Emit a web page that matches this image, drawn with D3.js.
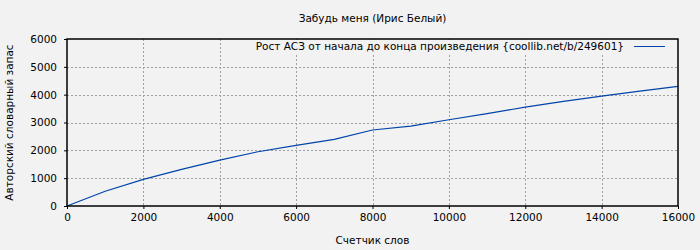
<!DOCTYPE html>
<html>
<head>
<meta charset="utf-8">
<script src="https://cdn.jsdelivr.net/npm/d3@7"></script>
<style>
  body { margin: 0; background: #f2f2f2; }
  svg { display: block; font-family: "DejaVu Sans", sans-serif; }
</style>
</head>
<body>
<div id="chart"></div>
<script>
// données
const words = [0, 1000, 2000, 3000, 4000, 5000, 6000, 7000, 8000, 9000, 10000, 11000, 12000, 13000, 14000, 15000, 16000];
const vocab = [0, 530, 955, 1315, 1650, 1950, 2180, 2395, 2730, 2870, 3100, 3320, 3550, 3760, 3950, 4130, 4300];
const xTicks = [0, 2000, 4000, 6000, 8000, 10000, 12000, 14000, 16000];
const yTicks = [0, 1000, 2000, 3000, 4000, 5000, 6000];

const title = "Забудь меня (Ирис Белый)";
const xLabel = "Счетчик слов";
const yLabel = "Авторский словарный запас";
const legendLabel = "Рост АСЗ от начала до конца произведения {coollib.net/b/249601}";

const W = 700, H = 250;
const margin = { top: 39, right: 22, bottom: 44, left: 67 };
const width = W - margin.left - margin.right;
const height = H - margin.top - margin.bottom;

const svg = d3.select("#chart").append("svg")
    .attr("width", W)
    .attr("height", H);

svg.append("rect").attr("width", W).attr("height", H).attr("fill", "#f2f2f2");

const g = svg.append("g").attr("transform", `translate(${margin.left},${margin.top})`);

const x = d3.scaleLinear().domain([0, 16000]).range([0, width]);
const y = d3.scaleLinear().domain([0, 6000]).range([height, 0]);

// grille pointillée
g.append("g").selectAll("line")
    .data(xTicks.slice(1, -1))
    .join("line")
    .attr("x1", d => Math.round(x(d)) + 0.5).attr("x2", d => Math.round(x(d)) + 0.5)
    .attr("y1", 0).attr("y2", height)
    .attr("stroke", "#a0a0a0").attr("stroke-dasharray", "2,2");

g.append("g").selectAll("line")
    .data(yTicks.slice(1, -1))
    .join("line")
    .attr("x1", 0).attr("x2", width)
    .attr("y1", d => Math.round(y(d)) + 0.5).attr("y2", d => Math.round(y(d)) + 0.5)
    .attr("stroke", "#a0a0a0").attr("stroke-dasharray", "2,2");

// légende (fond qui masque la grille)
const legend = g.append("g");
legend.append("rect")
    .attr("x", 185).attr("y", 1)
    .attr("width", width - 186).attr("height", 13)
    .attr("fill", "#f2f2f2");
legend.append("text")
    .attr("x", 557).attr("y", 11)
    .attr("text-anchor", "end")
    .attr("font-size", 10.5)
    .attr("fill", "#000")
    .text(legendLabel);
legend.append("line")
    .attr("x1", 567).attr("x2", 598)
    .attr("y1", 7.5).attr("y2", 7.5)
    .attr("stroke", "#0044aa").attr("stroke-width", 1);

// courbe
const line = d3.line()
    .x((d, i) => x(words[i]))
    .y(d => y(d));

g.append("path")
    .datum(vocab)
    .attr("fill", "none")
    .attr("stroke", "#0044aa")
    .attr("stroke-width", 1.2)
    .attr("d", line);

// axes
const xAxis = g.append("g")
    .attr("transform", `translate(0,${height})`)
    .call(d3.axisBottom(x).tickValues(xTicks).tickSize(3).tickPadding(5).tickFormat(d3.format("d")));
const yAxis = g.append("g")
    .call(d3.axisLeft(y).tickValues(yTicks).tickSize(3).tickPadding(7).tickFormat(d3.format("d")));

[xAxis, yAxis].forEach(a => {
    a.select(".domain").remove();
    a.selectAll("text").attr("font-size", 10.5).attr("fill", "#000").attr("font-family", "DejaVu Sans");
    a.selectAll("line").attr("stroke", "#000");
});

// cadre
g.append("rect")
    .attr("width", width).attr("height", height)
    .attr("fill", "none").attr("stroke", "#000").attr("stroke-width", 1.5);

// titres
svg.append("text")
    .attr("x", margin.left + width / 2).attr("y", 22)
    .attr("text-anchor", "middle").attr("font-size", 10.5)
    .text(title);

svg.append("text")
    .attr("x", margin.left + width / 2).attr("y", 244)
    .attr("text-anchor", "middle").attr("font-size", 10.5)
    .text(xLabel);

svg.append("text")
    .attr("transform", `translate(13,${margin.top + height / 2}) rotate(-90)`)
    .attr("text-anchor", "middle").attr("font-size", 10.5)
    .text(yLabel);
</script>
</body>
</html>
